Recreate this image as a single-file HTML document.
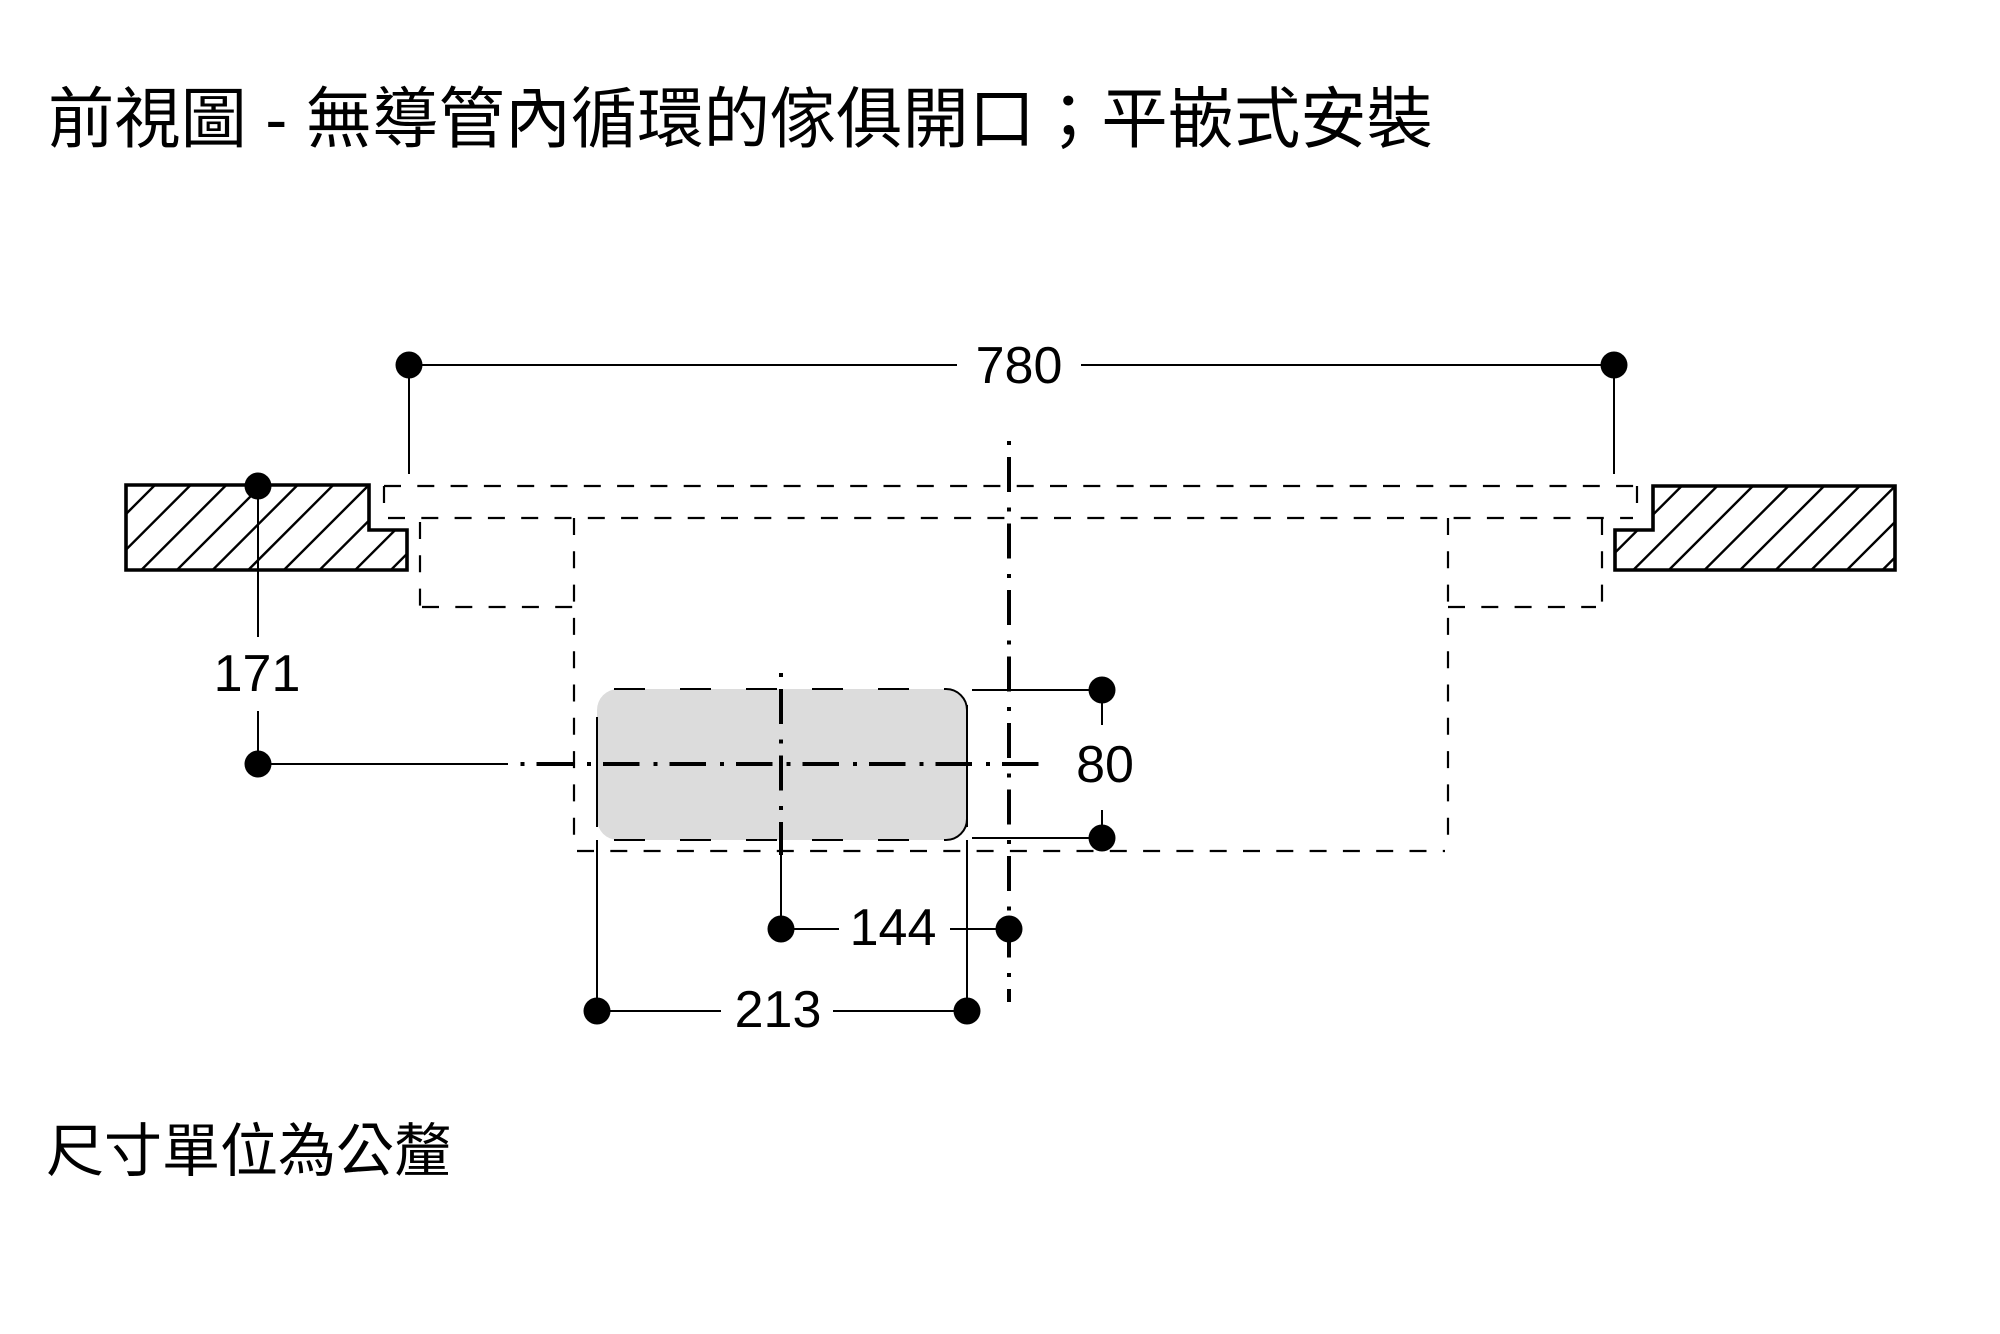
<!DOCTYPE html>
<html>
<head>
<meta charset="utf-8">
<style>
  html, body { margin: 0; padding: 0; background: #ffffff; }
  body { width: 2000px; height: 1334px; overflow: hidden; }
  svg { display: block; }
  .cjk { font-family: "Liberation Sans", "Noto Sans CJK TC", sans-serif; fill: #000; }
  .num { font-family: "Liberation Sans", sans-serif; font-size: 52px; fill: #000; }
</style>
</head>
<body>
<svg width="2000" height="1334" viewBox="0 0 2000 1334" xmlns="http://www.w3.org/2000/svg">
  <rect x="0" y="0" width="2000" height="1334" fill="#ffffff"/>

  <!-- Title -->
  <text class="cjk" x="48" y="142" font-size="66.3">前視圖 - 無導管內循環的傢俱開口；平嵌式安裝</text>
  <!-- Footer -->
  <text class="cjk" x="46" y="1171" font-size="58">尺寸單位為公釐</text>

  <defs>
    <clipPath id="cl">
      <polygon points="126,485 369,485 369,530 407,530 407,570 126,570"/>
    </clipPath>
    <clipPath id="cr">
      <polygon points="1895,486 1653,486 1653,530 1615,530 1615,570 1895,570"/>
    </clipPath>
  </defs>

  <!-- Left counter hatch -->
  <g clip-path="url(#cl)" stroke="#000" stroke-width="2.4">
    <line x1="180" y1="460" x2="40" y2="600"/>
    <line x1="215.65" y1="460" x2="75.65" y2="600"/>
    <line x1="251.3" y1="460" x2="111.3" y2="600"/>
    <line x1="286.95" y1="460" x2="146.95" y2="600"/>
    <line x1="322.6" y1="460" x2="182.6" y2="600"/>
    <line x1="358.25" y1="460" x2="218.25" y2="600"/>
    <line x1="393.9" y1="460" x2="253.9" y2="600"/>
    <line x1="429.55" y1="460" x2="289.55" y2="600"/>
    <line x1="465.2" y1="460" x2="325.2" y2="600"/>
    <line x1="500.85" y1="460" x2="360.85" y2="600"/>
  </g>
  <polygon points="126,485 369,485 369,530 407,530 407,570 126,570" fill="none" stroke="#000" stroke-width="3.6" stroke-linejoin="miter"/>

  <!-- Right counter hatch -->
  <g clip-path="url(#cr)" stroke="#000" stroke-width="2.4">
    <line x1="1707.7" y1="460" x2="1567.7" y2="600"/>
    <line x1="1743.3" y1="460" x2="1603.3" y2="600"/>
    <line x1="1778.9" y1="460" x2="1638.9" y2="600"/>
    <line x1="1814.5" y1="460" x2="1674.5" y2="600"/>
    <line x1="1850.1" y1="460" x2="1710.1" y2="600"/>
    <line x1="1885.7" y1="460" x2="1745.7" y2="600"/>
    <line x1="1921.3" y1="460" x2="1781.3" y2="600"/>
    <line x1="1956.9" y1="460" x2="1816.9" y2="600"/>
    <line x1="1992.5" y1="460" x2="1852.5" y2="600"/>
  </g>
  <polygon points="1895,486 1653,486 1653,530 1615,530 1615,570 1895,570" fill="none" stroke="#000" stroke-width="3.6" stroke-linejoin="miter"/>

  <!-- Dashed outlines: plate, body, side boxes -->
  <g stroke="#000" stroke-width="2.2" fill="none" stroke-dasharray="17 16.3">
    <!-- plate -->
    <line x1="384" y1="486" x2="1637" y2="486"/>
    <line x1="384" y1="486" x2="384" y2="518"/>
    <line x1="1637" y1="486" x2="1637" y2="518"/>
    <line x1="388" y1="518" x2="1633" y2="518"/>
    <!-- left small box -->
    <line x1="420" y1="522" x2="420" y2="607"/>
    <line x1="422" y1="607" x2="574" y2="607"/>
    <!-- right small box -->
    <line x1="1602" y1="518" x2="1602" y2="603"/>
    <line x1="1448" y1="607" x2="1596" y2="607"/>
    <!-- body -->
    <line x1="574" y1="518" x2="574" y2="848"/>
    <line x1="1448" y1="518" x2="1448" y2="848"/>
    <line x1="577" y1="851" x2="1445" y2="851"/>
  </g>

  <!-- Grey opening -->
  <rect x="597" y="689" width="370" height="151" rx="21" ry="21" fill="#dcdcdc"/>
  <g stroke="#000" stroke-width="2" fill="none">
    <line x1="614" y1="689" x2="946" y2="689" stroke-dasharray="31 35"/>
    <line x1="614" y1="840" x2="946" y2="840" stroke-dasharray="31 35"/>
    <line x1="597" y1="717" x2="597" y2="827"/>
    <line x1="967" y1="705" x2="967" y2="827"/>
    <path d="M946 689 A21 21 0 0 1 967 710"/>
    <path d="M967 819 A21 21 0 0 1 946 840"/>
  </g>

  <!-- Centre lines (dash-dot) -->
  <g stroke="#000" stroke-width="4" fill="none">
    <line x1="1009" y1="441" x2="1009" y2="1002" stroke-dasharray="4 12 35 15.5"/>
    <line x1="781" y1="673" x2="781" y2="855" stroke-dasharray="4 12 35 15.5"/>
    <line x1="520.5" y1="764" x2="1039" y2="764" stroke-dasharray="4 12 36.5 14"/>
  </g>

  <!-- Dimension lines -->
  <g stroke="#000" stroke-width="2" fill="none">
    <!-- 780 -->
    <line x1="409" y1="365" x2="957" y2="365"/>
    <line x1="1081" y1="365" x2="1614" y2="365"/>
    <line x1="409" y1="365" x2="409" y2="474"/>
    <line x1="1614" y1="365" x2="1614" y2="474"/>
    <!-- 171 -->
    <line x1="258" y1="486" x2="258" y2="637"/>
    <line x1="258" y1="711" x2="258" y2="764"/>
    <line x1="258" y1="764" x2="508" y2="764"/>
    <!-- 80 -->
    <line x1="972" y1="690" x2="1102" y2="690"/>
    <line x1="972" y1="838" x2="1102" y2="838"/>
    <line x1="1102" y1="690" x2="1102" y2="725"/>
    <line x1="1102" y1="810" x2="1102" y2="838"/>
    <!-- 144 -->
    <line x1="781" y1="855" x2="781" y2="929"/>
    <line x1="781" y1="929" x2="839" y2="929"/>
    <line x1="950" y1="929" x2="1009" y2="929"/>
    <!-- 213 -->
    <line x1="597" y1="840" x2="597" y2="1011"/>
    <line x1="967" y1="840" x2="967" y2="1011"/>
    <line x1="597" y1="1011" x2="721" y2="1011"/>
    <line x1="833" y1="1011" x2="967" y2="1011"/>
  </g>

  <!-- Dots -->
  <g fill="#000">
    <circle cx="409" cy="365" r="13.5"/>
    <circle cx="1614" cy="365" r="13.5"/>
    <circle cx="258" cy="486" r="13.5"/>
    <circle cx="258" cy="764" r="13.5"/>
    <circle cx="1102" cy="690" r="13.5"/>
    <circle cx="1102" cy="838" r="13.5"/>
    <circle cx="781" cy="929" r="13.5"/>
    <circle cx="1009" cy="929" r="13.5"/>
    <circle cx="597" cy="1011" r="13.5"/>
    <circle cx="967" cy="1011" r="13.5"/>
  </g>

  <!-- Dimension labels -->
  <text class="num" x="1019" y="383" text-anchor="middle">780</text>
  <text class="num" x="257" y="691" text-anchor="middle">171</text>
  <text class="num" x="1105" y="782" text-anchor="middle">80</text>
  <text class="num" x="893" y="945" text-anchor="middle">144</text>
  <text class="num" x="778" y="1027" text-anchor="middle">213</text>
</svg>
</body>
</html>
